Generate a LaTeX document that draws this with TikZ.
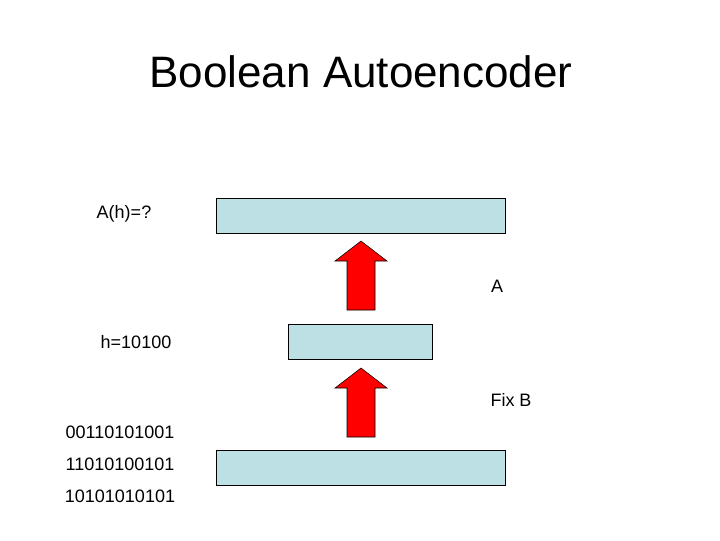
\documentclass[tikz,border=0pt]{standalone}
\usepackage{fontspec}
\setmainfont{Liberation Sans}
\usetikzlibrary{positioning}
\definecolor{boxblue}{RGB}{189,224,228}
\tikzstyle{layerbox} = [draw, fill=boxblue, inner sep=0pt]
\tikzstyle{lbl} = [font=\fontsize{13.5}{16}\selectfont, inner sep=0pt]
\tikzstyle{blockarrow} = [draw, fill=red]
\newcommand{\uparr}[3]{% x, bottom y, tip y
  \draw[blockarrow] (#1-14,#2) -- (#1+14,#2) -- (#1+14,#3+20) -- (#1+26,#3+20)
    -- (#1,#3) -- (#1-26,#3+20) -- (#1-14,#3+20) -- cycle;}
\begin{document}
\begin{tikzpicture}[x=0.75pt,y=-0.75pt]
\useasboundingbox (0,0) rectangle (720,540);
\node[font=\fontsize{33}{40}\selectfont] (title) at (361,72) {Boolean Autoencoder};
% layers
\node[layerbox, minimum width=289*0.75pt, minimum height=35*0.75pt] (top) at (360.5,215.5) {};
\node[layerbox, minimum width=144*0.75pt, minimum height=35*0.75pt] (mid) at (360,341.5) {};
\node[layerbox, minimum width=289*0.75pt, minimum height=35*0.75pt] (bot) at (360.5,467.5) {};
% arrows
\uparr{361}{310}{241}
\uparr{361}{437}{368}
% labels
\node[lbl] (out) at (124,214) {A(h)=?};
\node[lbl] (enc) at (497,286) {A};
\node[lbl] (code) at (136,342) {h=10100};
\node[lbl] (dec) at (511,400) {Fix B};
\node[lbl] (in1) at (120,432) {00110101001};
\node[lbl] (in2) at (120,464) {11010100101};
\node[lbl] (in3) at (120,496) {10101010101};
\end{tikzpicture}
\end{document}
